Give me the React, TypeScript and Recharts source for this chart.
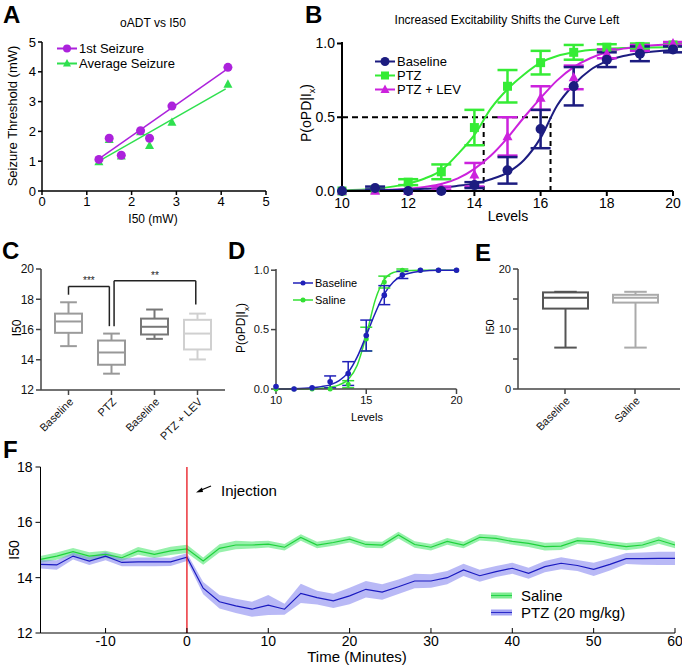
import React from 'react'
import {
  ComposedChart,
  Scatter,
  Line,
  Bar,
  Area,
  XAxis,
  YAxis,
  ErrorBar,
  ReferenceLine,
} from 'recharts'

// ---------- A: oADT vs I50
const aI50 = [1.27, 1.5, 1.77, 2.2, 2.4, 2.9, 4.15]
const aFirstSeizure = [1.06, 1.77, 1.2, 2.02, 1.77, 2.85, 4.15]
const aAverageSeizure = [0.98, 1.72, 1.17, 1.98, 1.52, 2.3, 3.58]
const aFitX = [1.27, 4.1]
const aFitFirst = [1.08, 4.06]
const aFitAverage = [1.0, 3.43]

// ---------- B: excitability curves
const bLevels = [10, 11, 12, 13, 14, 15, 16, 17, 18, 19, 20]
const bBaseline = [0.0, 0.02, 0.0, 0.0, 0.04, 0.14, 0.42, 0.71, 0.89, 0.93, 0.96]
const bBaselineErr = [0, 0.01, 0, 0, 0.02, 0.09, 0.13, 0.13, 0.05, 0.05, 0.02]
const bPtz = [0.0, 0.01, 0.06, 0.13, 0.43, 0.71, 0.87, 0.94, 0.975, 0.98, 0.99]
const bPtzErr = [0, 0, 0.02, 0.05, 0.12, 0.11, 0.08, 0.05, 0.02, 0.02, 0.01]
const bPtzLev = [0.0, 0.0, 0.0, 0.02, 0.11, 0.37, 0.63, 0.77, 0.93, 0.97, 1.0]
const bPtzLevErr = [0, 0, 0, 0.01, 0.08, 0.13, 0.08, 0.08, 0.03, 0.02, 0.01]
const bFitLevels = [10, 11, 12, 12.5, 13, 13.5, 14, 14.5, 15, 15.5, 16, 16.5, 17, 17.5, 18, 18.5, 19, 20]
const bFitBaseline = [0, 0.003, 0.01, 0.015, 0.022, 0.035, 0.05, 0.08, 0.125, 0.21, 0.36, 0.58, 0.72, 0.82, 0.88, 0.915, 0.935, 0.955]
const bFitPtz = [0.004, 0.015, 0.05, 0.085, 0.14, 0.25, 0.38, 0.56, 0.69, 0.79, 0.87, 0.915, 0.94, 0.955, 0.965, 0.97, 0.972, 0.975]
const bFitPtzLev = [0, 0.005, 0.015, 0.028, 0.047, 0.085, 0.15, 0.24, 0.36, 0.5, 0.63, 0.75, 0.84, 0.9, 0.94, 0.965, 0.98, 0.995]
const bHalfLevels = [14.28, 16.3]

// ---------- C: I50 box plots
const cGroups = ['Baseline', 'PTZ', 'Baseline', 'PTZ + LEV']
const cMin = [14.9, 13.08, 15.38, 14.02]
const cQ1 = [15.78, 13.67, 15.67, 14.68]
const cMedian = [16.53, 14.48, 16.18, 15.73]
const cQ3 = [17.05, 15.27, 16.72, 16.64]
const cMax = [17.8, 15.73, 17.32, 17.05]
const cBrackets = [
  { from: 1, to: 1.95, top: 18.85, leftEnd: 18.3, rightEnd: 16.22, label: '***' },
  { from: 2.06, to: 3.96, top: 19.23, leftEnd: 16.22, rightEnd: 17.65, label: '**' },
]

// ---------- D: baseline vs saline curves
const dLevels = [10, 11, 12, 13, 14, 15, 16, 17, 18, 19, 20]
const dBaseline = [0.02, 0.0, 0.01, 0.06, 0.13, 0.45, 0.79, 0.96, 1, 1, 1]
const dBaselineErr = [0, 0, 0, 0.05, 0.1, 0.13, 0.08, 0.03, 0, 0, 0]
const dSaline = [0, 0, 0, 0, 0.04, 0.42, 0.9, 1, 1, 1, 1]
const dSalineErr = [0, 0, 0, 0, 0.03, 0.1, 0.05, 0.01, 0, 0, 0]
const dFitLevels = [10, 11, 12, 12.5, 13, 13.5, 14, 14.5, 15, 15.5, 16, 16.5, 17, 18, 19, 20]
const dFitBaseline = [0, 0.002, 0.01, 0.02, 0.035, 0.07, 0.14, 0.27, 0.45, 0.64, 0.8, 0.9, 0.955, 0.99, 1, 1]
const dFitSaline = [0, 0, 0.002, 0.006, 0.015, 0.035, 0.08, 0.2, 0.45, 0.75, 0.92, 0.98, 0.995, 1, 1, 1]

// ---------- E: I50 box plots
const eGroups = ['Baseline', 'Saline']
const eMin = [6.9, 6.9]
const eQ1 = [13.4, 14.4]
const eMedian = [15.2, 15.2]
const eQ3 = [16.1, 15.7]
const eMax = [16.2, 16.2]

// ---------- F: I50 over time
const fTime = [-18, -16, -14, -12, -10, -8, -6, -4, -2, 0, 2, 4, 6, 8, 10, 12, 14, 16, 18, 20, 22, 24, 26, 28, 30, 32, 34, 36, 38, 40, 42, 44, 46, 48, 50, 52, 54, 56, 58, 60]
const fSaline = [
  14.66, 14.78, 14.94, 14.78, 14.84, 14.72, 14.97, 14.84, 14.97, 15.04,
  14.6, 15.06, 15.18, 15.18, 15.21, 15.1, 15.45, 15.18, 15.27, 15.39,
  15.2, 15.18, 15.54, 15.2, 15.1, 15.31, 15.18, 15.46, 15.42, 15.31,
  15.24, 15.12, 15.14, 15.34, 15.3, 15.2, 15.12, 15.18, 15.36, 15.18,
]
const fSalineSem = [
  0.12, 0.13, 0.13, 0.14, 0.13, 0.12, 0.14, 0.13, 0.15, 0.15,
  0.13, 0.15, 0.15, 0.13, 0.12, 0.12, 0.12, 0.12, 0.12, 0.12,
  0.12, 0.12, 0.12, 0.12, 0.12, 0.12, 0.12, 0.12, 0.12, 0.12,
  0.13, 0.14, 0.14, 0.12, 0.12, 0.12, 0.13, 0.12, 0.13, 0.12,
]
const fPtz = [
  14.48, 14.46, 14.78, 14.6, 14.78, 14.55, 14.57, 14.57, 14.57, 14.74,
  13.62, 13.13, 12.98, 12.86, 13.01, 12.86, 13.43, 13.28, 13.16, 13.34,
  13.58, 13.48, 13.67, 13.88, 13.88, 14.0, 14.28, 14.07, 14.22, 14.34,
  14.16, 14.4, 14.52, 14.44, 14.3, 14.48, 14.69, 14.69, 14.7, 14.7,
]
const fPtzSem = [
  0.15, 0.17, 0.12, 0.14, 0.15, 0.14, 0.16, 0.16, 0.15, 0.14,
  0.22, 0.24, 0.26, 0.27, 0.36, 0.2, 0.35, 0.25, 0.26, 0.3,
  0.3, 0.28, 0.26, 0.26, 0.24, 0.24, 0.22, 0.22, 0.2, 0.2,
  0.2, 0.2, 0.22, 0.2, 0.24, 0.22, 0.2, 0.22, 0.24, 0.24,
]

const FONT = "'Liberation Sans', Arial, sans-serif"
const NARROW = "'Liberation Sans Narrow', 'Liberation Sans', Arial, sans-serif"

const PURPLE_A = '#ac22dc'
const GREEN_A = '#2fe04f'
const NAVY = '#1c1c80'
const GREEN_B = '#35ec35'
const MAGENTA = '#cc22dd'
const BLUE_D = '#2020b8'
const GREEN_D = '#33e033'
const C_COLORS = ['#9b9b9b', '#989898', '#777777', '#d0d0d0']
const E_COLORS = ['#555555', '#aaaaaa']

const pts = (xs: number[], ys: number[], errs?: number[]) =>
  xs.map((x, i) => ({ x, y: ys[i], err: errs ? errs[i] : 0 }))

function Txt({ x, y, size = 12, rotate = 0, weight = 400, family = FONT, anchor = 'center', children }: any) {
  const tx = anchor === 'center' ? '-50%' : anchor === 'start' ? '0' : '-100%'
  return (
    <div
      style={{
        position: 'absolute',
        left: x,
        top: y,
        transform: `translate(${tx},-50%) rotate(${rotate}deg)`,
        fontSize: size,
        fontWeight: weight,
        fontFamily: family,
        whiteSpace: 'nowrap',
        lineHeight: 1,
        color: '#000',
      }}
    >
      {children}
    </div>
  )
}

function Mark({ kind, cx, cy, r, color }: any) {
  if (kind === 'square') return <rect x={cx - r} y={cy - r} width={r * 2} height={r * 2} fill={color} />
  if (kind === 'triangle')
    return <polygon points={`${cx},${cy - r * 1.1} ${cx + r},${cy + r * 0.75} ${cx - r},${cy + r * 0.75}`} fill={color} />
  return <circle cx={cx} cy={cy} r={r} fill={color} />
}

const markShape = (kind: string, r: number, color: string) => (p: any) =>
  <Mark kind={kind} cx={p.cx} cy={p.cy} r={r} color={color} />

function LegendRow({ left, top, color, kind, r, label, size, lw = 2, family = FONT }: any) {
  return (
    <div
      style={{
        position: 'absolute',
        left,
        top,
        transform: 'translateY(-50%)',
        display: 'flex',
        alignItems: 'center',
        fontFamily: family,
        fontSize: size,
        whiteSpace: 'nowrap',
        lineHeight: 1,
      }}
    >
      <svg width={20} height={12}>
        <line x1={0} x2={20} y1={6} y2={6} stroke={color} strokeWidth={lw} />
        <Mark kind={kind} cx={10} cy={6} r={r} color={color} />
      </svg>
      <span style={{ marginLeft: 2 }}>{label}</span>
    </div>
  )
}

function BandLegend({ left, top, band, line, label }: any) {
  return (
    <div
      style={{
        position: 'absolute',
        left,
        top,
        transform: 'translateY(-50%)',
        display: 'flex',
        alignItems: 'center',
        fontFamily: NARROW,
        fontSize: 15,
        whiteSpace: 'nowrap',
        lineHeight: 1,
      }}
    >
      <svg width={21} height={8}>
        <rect x={0} y={1} width={21} height={6} fill={band} />
        <line x1={0} x2={21} y1={4} y2={4} stroke={line} strokeWidth={1} />
      </svg>
      <span style={{ marginLeft: 9 }}>{label}</span>
    </div>
  )
}

function BoxShape(props: any) {
  const { x, y, width, height, payload, color, cap } = props
  const top = Math.min(y, y + height)
  const h = Math.abs(height)
  const span = payload.max - payload.min
  const py = (v: number) => top + ((payload.max - v) / span) * h
  const cx = x + width / 2
  const cw = width * cap
  return (
    <g stroke={color} strokeWidth={2} fill="none">
      <line x1={cx} x2={cx} y1={py(payload.max)} y2={py(payload.q3)} />
      <line x1={cx} x2={cx} y1={py(payload.q1)} y2={py(payload.min)} />
      <line x1={cx - cw / 2} x2={cx + cw / 2} y1={py(payload.max)} y2={py(payload.max)} />
      <line x1={cx - cw / 2} x2={cx + cw / 2} y1={py(payload.min)} y2={py(payload.min)} />
      <rect x={x} y={py(payload.q3)} width={width} height={py(payload.q1) - py(payload.q3)} fill="#fff" />
      <line x1={x} x2={x + width} y1={py(payload.median)} y2={py(payload.median)} />
    </g>
  )
}

// star label above a bracket
const starLabel = (text: string) => (p: any) => {
  const vb = p.viewBox || {}
  return (
    <text x={vb.x + (vb.width || 0) / 2} y={vb.y - 2} textAnchor="middle" fontSize={10}
      fill="#222" stroke="none" fontFamily={FONT}>
      {text}
    </text>
  )
}

const blackAxis = { stroke: '#000', strokeWidth: 1.5 }
const grayAxis = { stroke: '#444', strokeWidth: 1.5 }

function PanelA() {
  return (
    <div style={{ position: 'absolute', left: 0, top: 0 }}>
      <ComposedChart width={280} height={230} margin={{ top: 42, right: 14, left: 0, bottom: 0 }}>
        <XAxis type="number" dataKey="x" domain={[0, 5]} ticks={[0, 1, 2, 3, 4, 5]} height={39}
          axisLine={blackAxis} tickLine={blackAxis} tickSize={4} tick={{ fontSize: 13, fill: '#000', fontFamily: FONT }} />
        <YAxis type="number" dataKey="y" domain={[0, 5]} ticks={[0, 1, 2, 3, 4, 5]} width={42}
          axisLine={blackAxis} tickLine={blackAxis} tickSize={4} tick={{ fontSize: 13, fill: '#000', fontFamily: FONT }} />
        <Line data={pts(aFitX, aFitAverage)} dataKey="y" stroke={GREEN_A} strokeWidth={1.5} dot={false} isAnimationActive={false} />
        <Line data={pts(aFitX, aFitFirst)} dataKey="y" stroke={PURPLE_A} strokeWidth={1.5} dot={false} isAnimationActive={false} />
        <Scatter data={pts(aI50, aAverageSeizure)} shape={markShape('triangle', 4.5, GREEN_A)} isAnimationActive={false} />
        <Scatter data={pts(aI50, aFirstSeizure)} shape={markShape('circle', 4.5, PURPLE_A)} isAnimationActive={false} />
      </ComposedChart>
      <Txt x={153} y={23} size={12}>oADT vs I50</Txt>
      <Txt x={12} y={116} size={13} rotate={-90}>Seizure Threshold (mW)</Txt>
      <Txt x={153} y={219} size={12}>I50 (mW)</Txt>
      <LegendRow left={57} top={48} color={PURPLE_A} kind="circle" r={4} label="1st Seizure" size={13} />
      <LegendRow left={57} top={63} color={GREEN_A} kind="triangle" r={4} label="Average Seizure" size={13} />
    </div>
  )
}

function PanelB() {
  const yLabel = (
    <span>
      P(oPD|I<sub style={{ fontSize: 9 }}>x</sub>)
    </span>
  )
  return (
    <div style={{ position: 'absolute', left: 280, top: 0 }}>
      <ComposedChart width={402} height={230} margin={{ top: 42, right: 9, left: 0, bottom: 0 }}>
        <XAxis type="number" dataKey="x" domain={[10, 20]} ticks={[10, 12, 14, 16, 18, 20]} height={39}
          axisLine={{ stroke: '#000', strokeWidth: 2 }} tickLine={{ stroke: '#000', strokeWidth: 2 }} tickSize={5}
          tick={{ fontSize: 14, fill: '#000', fontFamily: FONT }} />
        <YAxis type="number" dataKey="y" domain={[0, 1]} ticks={[0, 0.5, 1]} width={62}
          tickFormatter={(v: number) => v.toFixed(1)}
          axisLine={{ stroke: '#000', strokeWidth: 2 }} tickLine={{ stroke: '#000', strokeWidth: 2 }} tickSize={5}
          tick={{ fontSize: 14, fill: '#000', fontFamily: FONT }} />
        <ReferenceLine segment={[{ x: 10, y: 0.5 }, { x: bHalfLevels[1], y: 0.5 }]} stroke="#000" strokeWidth={2} strokeDasharray="6 4" />
        {bHalfLevels.map((lv) => (
          <ReferenceLine key={lv} segment={[{ x: lv, y: 0 }, { x: lv, y: 0.5 }]} stroke="#000" strokeWidth={2} strokeDasharray="5 4" />
        ))}
        <Line data={pts(bFitLevels, bFitPtz)} dataKey="y" type="monotone" stroke={GREEN_B} strokeWidth={2} dot={false} isAnimationActive={false} />
        <Line data={pts(bFitLevels, bFitPtzLev)} dataKey="y" type="monotone" stroke={MAGENTA} strokeWidth={2} dot={false} isAnimationActive={false} />
        <Line data={pts(bFitLevels, bFitBaseline)} dataKey="y" type="monotone" stroke={NAVY} strokeWidth={2} dot={false} isAnimationActive={false} />
        <Scatter data={pts(bLevels, bPtz, bPtzErr)} shape={markShape('square', 4.5, GREEN_B)} isAnimationActive={false}>
          <ErrorBar dataKey="err" direction="y" width={10} stroke={GREEN_B} strokeWidth={2.5} isAnimationActive={false} />
        </Scatter>
        <Scatter data={pts(bLevels, bPtzLev, bPtzLevErr)} shape={markShape('triangle', 5, MAGENTA)} isAnimationActive={false}>
          <ErrorBar dataKey="err" direction="y" width={10} stroke={MAGENTA} strokeWidth={2.5} isAnimationActive={false} />
        </Scatter>
        <Scatter data={pts(bLevels, bBaseline, bBaselineErr)} shape={markShape('circle', 5, NAVY)} isAnimationActive={false}>
          <ErrorBar dataKey="err" direction="y" width={10} stroke={NAVY} strokeWidth={2.5} isAnimationActive={false} />
        </Scatter>
      </ComposedChart>
      <Txt x={227} y={20} size={12}>Increased Excitability Shifts the Curve Left</Txt>
      <Txt x={28} y={113} size={14} rotate={-90}>{yLabel}</Txt>
      <Txt x={228} y={216} size={14}>Levels</Txt>
      <LegendRow left={95} top={61} color={NAVY} kind="circle" r={4.5} label="Baseline" size={13} />
      <LegendRow left={95} top={75} color={GREEN_B} kind="square" r={4} label="PTZ" size={13} />
      <LegendRow left={95} top={89} color={MAGENTA} kind="triangle" r={4.5} label="PTZ + LEV" size={13} />
    </div>
  )
}

function PanelC() {
  const data = cGroups.map((name, i) => ({
    id: i + 1,
    name,
    min: cMin[i],
    q1: cQ1[i],
    median: cMedian[i],
    q3: cQ3[i],
    max: cMax[i],
    range: [cMin[i], cMax[i]],
  }))
  return (
    <div style={{ position: 'absolute', left: 0, top: 255 }}>
      <ComposedChart width={235} height={200} data={data} margin={{ top: 14, right: 10, left: 0, bottom: 0 }}>
        <XAxis dataKey="id" type="category" padding={{ left: 6, right: 6 }} height={65} interval={0}
          tickFormatter={(v: any) => cGroups[Number(v) - 1]} angle={-45} textAnchor="end"
          axisLine={grayAxis} tickLine={grayAxis} tickSize={5}
          tick={{ fontSize: 11, fill: '#111', fontFamily: FONT }} />
        <XAxis xAxisId="n" dataKey="id" type="number" domain={[0.5, 4.5]} allowDataOverflow hide
          padding={{ left: 6, right: 6 }} />
        <YAxis type="number" domain={[12, 20]} ticks={[12, 14, 16, 18, 20]} width={41}
          axisLine={grayAxis} tickLine={grayAxis} tickSize={5}
          tick={{ fontSize: 12, fill: '#111', fontFamily: FONT }} />
        <Bar dataKey="range" barSize={27} isAnimationActive={false}
          shape={(p: any) => <BoxShape {...p} color={C_COLORS[p.index]} cap={0.62} />} />
        {cBrackets.map((b, i) => (
          <React.Fragment key={i}>
            <ReferenceLine xAxisId="n" segment={[{ x: b.from, y: b.leftEnd }, { x: b.from, y: b.top }]} stroke="#222" strokeWidth={1.5} />
            <ReferenceLine xAxisId="n" segment={[{ x: b.from, y: b.top }, { x: b.to, y: b.top }]} stroke="#222" strokeWidth={1.5}
              label={starLabel(b.label)} />
            <ReferenceLine xAxisId="n" segment={[{ x: b.to, y: b.top }, { x: b.to, y: b.rightEnd }]} stroke="#222" strokeWidth={1.5} />
          </React.Fragment>
        ))}
      </ComposedChart>
      <Txt x={17} y={73} size={12} rotate={-90}>I50</Txt>
    </div>
  )
}

function PanelD() {
  const yLabel = (
    <span>
      P(oPD|I<sub style={{ fontSize: 8 }}>x</sub>)
    </span>
  )
  return (
    <div style={{ position: 'absolute', left: 230, top: 255 }}>
      <ComposedChart width={240} height={200} margin={{ top: 14, right: 13.5, left: 0, bottom: 0 }}>
        <XAxis type="number" dataKey="x" domain={[10, 20]} ticks={[10, 15, 20]} height={66}
          axisLine={grayAxis} tickLine={grayAxis} tickSize={5}
          tick={{ fontSize: 11, fill: '#111', fontFamily: FONT }} />
        <YAxis type="number" dataKey="y" domain={[0, 1]} ticks={[0, 0.5, 1]} width={46}
          tickFormatter={(v: number) => v.toFixed(1)}
          axisLine={grayAxis} tickLine={grayAxis} tickSize={5}
          tick={{ fontSize: 11, fill: '#111', fontFamily: FONT }} />
        <Line data={pts(dFitLevels, dFitSaline)} dataKey="y" type="monotone" stroke={GREEN_D} strokeWidth={1.5} dot={false} isAnimationActive={false} />
        <Line data={pts(dFitLevels, dFitBaseline)} dataKey="y" type="monotone" stroke={BLUE_D} strokeWidth={1.5} dot={false} isAnimationActive={false} />
        <Scatter data={pts(dLevels, dSaline, dSalineErr)} shape={markShape('circle', 2.5, GREEN_D)} isAnimationActive={false}>
          <ErrorBar dataKey="err" direction="y" width={6} stroke={GREEN_D} strokeWidth={1.5} isAnimationActive={false} />
        </Scatter>
        <Scatter data={pts(dLevels, dBaseline, dBaselineErr)} shape={markShape('circle', 2.8, BLUE_D)} isAnimationActive={false}>
          <ErrorBar dataKey="err" direction="y" width={6} stroke={BLUE_D} strokeWidth={1.5} isAnimationActive={false} />
        </Scatter>
      </ComposedChart>
      <Txt x={13} y={73} size={12} rotate={-90}>{yLabel}</Txt>
      <Txt x={137} y={162} size={11}>Levels</Txt>
      <LegendRow left={63} top={28} color={BLUE_D} kind="circle" r={2.5} lw={1.5} label="Baseline" size={11} />
      <LegendRow left={63} top={45} color={GREEN_D} kind="circle" r={2.5} lw={1.5} label="Saline" size={11} />
    </div>
  )
}

function PanelE() {
  const data = eGroups.map((name, i) => ({
    id: i + 1,
    name,
    min: eMin[i],
    q1: eQ1[i],
    median: eMedian[i],
    q3: eQ3[i],
    max: eMax[i],
    range: [eMin[i], eMax[i]],
  }))
  return (
    <div style={{ position: 'absolute', left: 460, top: 255 }}>
      <ComposedChart width={222} height={200} data={data} margin={{ top: 14, right: 2, left: 0, bottom: 0 }}>
        <XAxis dataKey="id" type="category" padding={{ left: 12, right: 10 }} height={66} interval={0}
          tickFormatter={(v: any) => eGroups[Number(v) - 1]} angle={-45} textAnchor="end"
          axisLine={grayAxis} tickLine={grayAxis} tickSize={5}
          tick={{ fontSize: 11, fill: '#111', fontFamily: FONT }} />
        <YAxis type="number" domain={[0, 20]} ticks={[0, 5, 10, 15, 20]} width={58}
          tickFormatter={(v: number) => (v % 10 === 0 ? String(v) : '')}
          axisLine={grayAxis} tickLine={grayAxis} tickSize={5}
          tick={{ fontSize: 11, fill: '#111', fontFamily: FONT }} />
        <Bar dataKey="range" barSize={45} isAnimationActive={false}
          shape={(p: any) => <BoxShape {...p} color={E_COLORS[p.index]} cap={0.5} />} />
      </ComposedChart>
      <Txt x={30} y={72} size={11} rotate={-90}>I50</Txt>
    </div>
  )
}

function PanelF() {
  const data = fTime.map((t, i) => ({
    t,
    saline: fSaline[i],
    salineBand: [fSaline[i] - fSalineSem[i], fSaline[i] + fSalineSem[i]],
    ptz: fPtz[i],
    ptzBand: [fPtz[i] - fPtzSem[i], fPtz[i] + fPtzSem[i]],
  }))
  const axis = { stroke: '#000', strokeWidth: 1 }
  return (
    <div style={{ position: 'absolute', left: 0, top: 455 }}>
      <ComposedChart width={682} height={214} data={data} margin={{ top: 12, right: 7, left: 0, bottom: 0 }}>
        <XAxis type="number" dataKey="t" domain={[-18, 60]} ticks={[-10, 0, 10, 20, 30, 40, 50, 60]} height={36}
          axisLine={axis} tickLine={axis} tickSize={-5} tickMargin={8}
          tick={{ fontSize: 14, fill: '#000', fontFamily: NARROW }} />
        <YAxis type="number" domain={[12, 18]} ticks={[12, 14, 16, 18]} width={40.5}
          axisLine={axis} tickLine={axis} tickSize={5} tickMargin={3}
          tick={{ fontSize: 14, fill: '#000', fontFamily: NARROW }} />
        <Area dataKey="salineBand" type="linear" stroke="none" fill="#52e873" fillOpacity={0.6} isAnimationActive={false} />
        <Area dataKey="ptzBand" type="linear" stroke="none" fill="#8080ee" fillOpacity={0.55} isAnimationActive={false} />
        <Line dataKey="saline" type="linear" stroke="#1fd23c" strokeWidth={1.2} dot={false} isAnimationActive={false} />
        <Line dataKey="ptz" type="linear" stroke="#1a1ac0" strokeWidth={1.2} dot={false} isAnimationActive={false} />
        <ReferenceLine x={0} stroke="#e8141c" strokeWidth={1.3} />
      </ComposedChart>
      <Txt x={14} y={95} size={14} rotate={-90} family={NARROW}>I50</Txt>
      <Txt x={357} y={201} size={15} family={NARROW}>Time (Minutes)</Txt>
      <svg style={{ position: 'absolute', left: 194, top: 28 }} width={20} height={12}>
        <line x1={17} y1={3} x2={6} y2={7.5} stroke="#000" strokeWidth={1.2} />
        <polygon points="2,9.5 8,4.5 9,9" fill="#000" />
      </svg>
      <Txt x={221} y={35} size={15} family={NARROW} anchor="start">Injection</Txt>
      <BandLegend left={491} top={140} band="#7deb8f" line="#22d24a" label="Saline" />
      <BandLegend left={491} top={157} band="#a3a3f3" line="#2a2ac8" label="PTZ (20 mg/kg)" />
    </div>
  )
}

export default function App() {
  return (
    <div style={{ position: 'relative', width: 682, height: 669, background: '#fff', overflow: 'hidden', fontFamily: FONT }}>
      <style>{'body{margin:0}'}</style>
      <PanelA />
      <PanelB />
      <PanelC />
      <PanelD />
      <PanelE />
      <PanelF />
      <Txt x={3} y={15} size={24} weight={700} anchor="start">A</Txt>
      <Txt x={305} y={15} size={24} weight={700} anchor="start">B</Txt>
      <Txt x={2} y={251} size={24} weight={700} anchor="start">C</Txt>
      <Txt x={228} y={251} size={24} weight={700} anchor="start">D</Txt>
      <Txt x={475} y={253} size={24} weight={700} anchor="start">E</Txt>
      <Txt x={3} y={450} size={24} weight={700} anchor="start">F</Txt>
    </div>
  )
}
